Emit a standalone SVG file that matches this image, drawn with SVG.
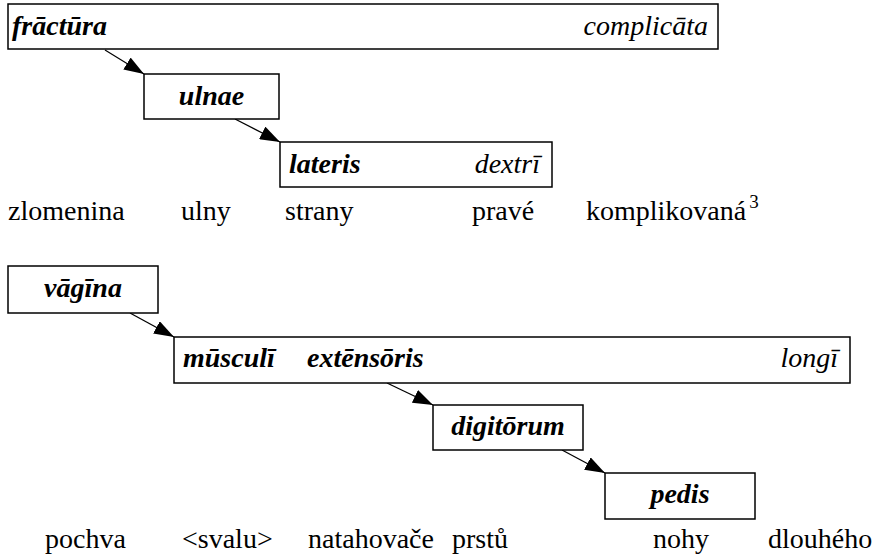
<svg xmlns="http://www.w3.org/2000/svg" width="875" height="555" viewBox="0 0 875 555">
<style>
text{font-family:"Liberation Serif","Times New Roman",serif;fill:#000}
.box{fill:#fff;stroke:#000;stroke-width:1.5}
.bi{font-weight:bold;font-style:italic;font-size:28px}
.it{font-style:italic;font-size:28px}
.rm{font-size:28px}
.sup{font-size:19px}
.edge{stroke:#000;stroke-width:1.3;fill:none;marker-end:url(#ah)}
</style>
<defs>
<marker id="ah" markerUnits="userSpaceOnUse" markerWidth="20" markerHeight="14" viewBox="0 0 20 14" refX="20" refY="7" orient="auto">
<path d="M0,0 L20,7 L0,14 Z" fill="#000"/>
</marker>
</defs>
<g id="connectors">
<line class="edge" x1="105" y1="50" x2="144" y2="74"/>
<line class="edge" x1="235" y1="119" x2="280" y2="142"/>
<line class="edge" x1="130" y1="313" x2="174" y2="337"/>
<line class="edge" x1="387" y1="383" x2="433" y2="405"/>
<line class="edge" x1="562" y1="450" x2="605" y2="473"/>
</g>
<g id="fractura">
<rect class="box" x="8" y="4" width="710" height="45"/>
<text class="bi" x="12" y="35">frāctūra</text>
<text class="it" x="708" y="35" text-anchor="end">complicāta</text>
</g>
<g id="ulnae">
<rect class="box" x="144" y="74" width="135" height="45"/>
<text class="bi" x="211.5" y="105" text-anchor="middle">ulnae</text>
</g>
<g id="lateris">
<rect class="box" x="280" y="142" width="272" height="45"/>
<text class="bi" x="289" y="173">lateris</text>
<text class="it" x="540" y="173" text-anchor="end">dextrī</text>
</g>
<g id="gloss1">
<text class="rm" x="8" y="220">zlomenina</text>
<text class="rm" x="181" y="220">ulny</text>
<text class="rm" x="285" y="220">strany</text>
<text class="rm" x="472" y="220">pravé</text>
<text class="rm" x="586" y="220">komplikovaná<tspan class="sup" dx="3" dy="-12">3</tspan></text>
</g>
<g id="vagina">
<rect class="box" x="8" y="266" width="150" height="47"/>
<text class="bi" x="83" y="297" text-anchor="middle">vāgīna</text>
</g>
<g id="musculi">
<rect class="box" x="174" y="337" width="676" height="46"/>
<text class="bi" x="183" y="367">mūsculī</text>
<text class="bi" x="307" y="367">extēnsōris</text>
<text class="it" x="838" y="367" text-anchor="end">longī</text>
</g>
<g id="digitorum">
<rect class="box" x="433" y="405" width="150" height="45"/>
<text class="bi" x="508" y="435" text-anchor="middle">digitōrum</text>
</g>
<g id="pedis">
<rect class="box" x="605" y="473" width="150" height="46"/>
<text class="bi" x="680" y="503" text-anchor="middle">pedis</text>
</g>
<g id="gloss2">
<text class="rm" x="45" y="548">pochva</text>
<text class="rm" x="182" y="548">&lt;svalu&gt;</text>
<text class="rm" x="308" y="548">natahovače</text>
<text class="rm" x="452" y="548">prstů</text>
<text class="rm" x="653" y="548">nohy</text>
<text class="rm" x="768" y="548">dlouhého</text>
</g>
</svg>
